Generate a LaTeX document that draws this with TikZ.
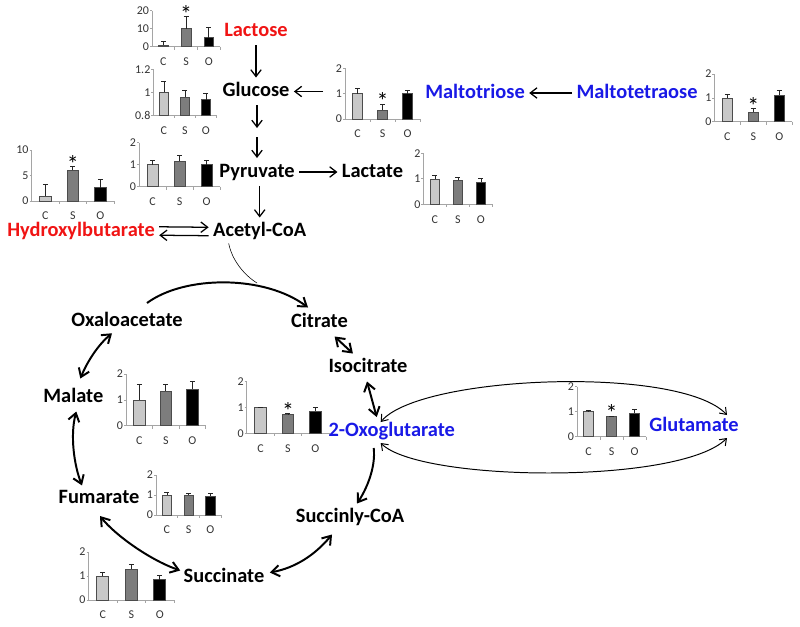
\documentclass[tikz,border=0pt]{standalone}
\usepackage{fontspec}
\setmainfont{Carlito}
\usetikzlibrary{arrows.meta,calc}

\definecolor{labred}{RGB}{240,20,20}
\definecolor{labblue}{RGB}{25,25,230}
\definecolor{barcol1}{RGB}{200,200,200}
\definecolor{barcol2}{RGB}{125,125,125}
\definecolor{barcol3}{RGB}{0,0,0}
\definecolor{axisgray}{RGB}{165,165,165}

\tikzset{
  metab/.style={font=\fontsize{14.5}{16}\selectfont\bfseries, inner sep=3pt,
    text height=10.5pt, text depth=3pt},
  ticklabel/.style={font=\fontsize{8.5}{9}\selectfont, text=black!80, inner sep=0.5pt},
  starlabel/.style={font=\fontsize{17}{17}\selectfont, inner sep=0pt, anchor=base},
  chartaxis/.style={draw=axisgray, line width=0.5pt},
  errbar/.style={draw=black!85, line width=0.4pt},
  flow/.style={-{Straight Barb[length=1.7mm,width=2.6mm]}, line width=0.9pt},
  cyc/.style={-{Straight Barb[length=2mm,width=2.8mm]}, line width=1.4pt},
  cycboth/.style={{Straight Barb[length=2mm,width=2.8mm]}-{Straight Barb[length=2mm,width=2.8mm]}, line width=1.4pt},
  dblthin/.style={{Straight Barb[length=1.5mm,width=2.2mm]}-{Straight Barb[length=1.5mm,width=2.2mm]}, line width=0.7pt},
  joinline/.style={line width=0.4pt}
}

% #1 corner, #2 group width, #3 px per unit, #4 axis top, #5 ticks, #6 bars, #7 starred group
\newcommand{\minichart}[7]{%
  \begin{scope}[shift={#1}]
    \draw[chartaxis] (0,-#4*#3) -- (0,0) -- (3*#2,0);
    \foreach \v/\l in {#5}{
      \draw[chartaxis] (-2,-\v*#3) -- (0,-\v*#3);
      \node[ticklabel,anchor=east] at (-2,-\v*#3) {\l};
    }
    \foreach \t in {1,2,3}
      \draw[chartaxis] (\t*#2,0) -- (\t*#2,3);
    \foreach \h/\e [count=\i] in {#6}{
      \filldraw[fill=barcol\i, draw=black!70, line width=0.4pt]
        ({(\i-0.5)*#2-0.21*#2},0) rectangle ({(\i-0.5)*#2+0.21*#2},-\h*#3);
      \draw[errbar] ({(\i-0.5)*#2},-\h*#3) -- ({(\i-0.5)*#2},-\e*#3)
        ({(\i-0.5)*#2-2.5},-\e*#3) -- ({(\i-0.5)*#2+2.5},-\e*#3);
      \ifnum\i=#7 \node[starlabel] at ({(\i-0.5)*#2},-\e*#3+6) {*};\fi
    }
    \foreach \c [count=\i] in {C,S,O}
      \node[ticklabel] at ({(\i-0.5)*#2},15) {\c};
  \end{scope}}

\begin{document}
\begin{tikzpicture}[x=0.025cm,y=-0.025cm]
    \useasboundingbox (0,0) rectangle (800,626);

    % small bar charts
    \minichart{(152,46.7)}{22.7}{1.8}{20}{0/0,10/10,20/20}{1/3,10/17,5/11}{2}
    \minichart{(153.3,115.3)}{21}{115}{0.4}{0/0.8,0.2/1,0.4/1.2}{0.2/0.3,0.16/0.22,0.135/0.19}{0}
    \minichart{(139,186.7)}{27}{22}{2}{0/0,1/1,2/2}{1/1.2,1.15/1.45,1/1.2}{0}
    \minichart{(31.5,201)}{27.5}{5.1}{10}{0/0,5/5,10/10}{1/3.2,6/6.8,2.6/4.2}{2}
    \minichart{(345,119)}{25}{25.35}{2}{0/0,1/1,2/2}{1/1.2,0.35/0.6,1/1.15}{2}
    \minichart{(714.3,121.7)}{26}{23.85}{2}{0/0,1/1,2/2}{1/1.15,0.4/0.55,1.1/1.3}{2}
    \minichart{(423.3,204.3)}{23}{25.5}{2}{0/0,1/1,2/2}{1/1.15,0.95/1.05,0.88/1.02}{0}
    \minichart{(126,425.7)}{26.5}{25.85}{2}{0/0,1/1,2/2}{1/1.6,1.35/1.6,1.42/1.7}{0}
    \minichart{(246.7,433.3)}{27.5}{25.8}{2}{0/0,1/1,2/2}{1/1.02,0.72/0.76,0.87/1.02}{2}
    \minichart{(577,436.7)}{23}{25}{2}{0/0,1/1,2/2}{1/1.05,0.8/0.83,0.95/1.1}{2}
    \minichart{(156,515)}{21.7}{20}{2}{0/0,1/1,2/2}{1/1.15,1/1.08,0.95/1.1}{0}
    \minichart{(88.5,600)}{28.5}{24}{2}{0/0,1/1,2/2}{1/1.15,1.28/1.5,0.85/1.05}{0}

    % metabolites
    \node[metab,text=labred] (lactose) at (256,31.5) {Lactose};
    \node[metab] (glucose) at (256,91.5) {Glucose};
    \node[metab] (pyruvate) at (257,172) {Pyruvate};
    \node[metab] (lactate) at (372.5,172) {Lactate};
    \node[metab] (acetyl) at (259.7,231.5) {Acetyl-CoA};
    \node[metab,text=labred] (hydroxy) at (81,231) {Hydroxylbutarate};
    \node[metab,text=labblue] (maltotriose) at (475,93) {Maltotriose};
    \node[metab,text=labblue] (maltotetraose) at (637,93) {Maltotetraose};
    \node[metab] (oxalo) at (127,321) {Oxaloacetate};
    \node[metab] (citrate) at (319.5,322.5) {Citrate};
    \node[metab] (isocitrate) at (368,367.5) {Isocitrate};
    \node[metab] (malate) at (73.3,397.5) {Malate};
    \node[metab,text=labblue] (oxoglu) at (391.7,431) {2-Oxoglutarate};
    \node[metab,text=labblue] (glutamate) at (694,426) {Glutamate};
    \node[metab] (fumarate) at (99,498) {Fumarate};
    \node[metab] (succoa) at (350,517.5) {Succinly-CoA};
    \node[metab] (succinate) at (224,577.5) {Succinate};

    \coordinate (mtrtail) at (323,91.5);
    \coordinate (glymid) at (257,128);
    \coordinate (glymid2) at (257,137);
    \coordinate (acmerge) at (257,283);

    % upper pathway
    \draw[flow] (lactose) -- (glucose);
    \draw[flow] (glucose.south -| glymid) -- (glymid);
    \draw[flow] (glymid2) -- (glymid2 |- pyruvate.north);
    \draw[flow] (mtrtail) -- (glucose.east);
    \draw[flow] (maltotetraose) -- (maltotriose);
    \draw[flow] (pyruvate) -- (lactate);
    \draw[flow] (pyruvate.south -| acetyl) -- (acetyl);
    \draw[flow] ([yshift=3pt]hydroxy.east) -- ([yshift=3pt]acetyl.west);
    \draw[flow] ([yshift=-3pt]acetyl.west) -- ([yshift=-3pt]hydroxy.east);
    \draw[joinline] ($(acetyl.south)+(-31,-2)$) .. controls (232,260) and (244,275) .. (acmerge);

    % cycle
    \draw[cyc] ($(oxalo.north)+(20,-4)$) .. controls (185,275) and (265,275) .. ($(citrate.north)+(-11.5,-1)$);
    \draw[cycboth] (citrate) -- (isocitrate);
    \draw[cycboth] ($(isocitrate.south)+(-1,0)$) -- ($(oxoglu.north)+(-15,0)$);
    \draw[cyc] ($(oxoglu.south)+(-18,3)$) .. controls (376,468) and (366,490) .. ($(succoa.north)+(7,0)$);
    \draw[cycboth] ($(succoa.south)+(-18,3)$) .. controls (315,555) and (295,568) .. ($(succinate.east)+(1,-5)$);
    \draw[cycboth] ($(fumarate.south)+(1,4)$) .. controls (115,535) and (150,560) .. ($(succinate.west)+(1,-7)$);
    \draw[cycboth] ($(malate.south)+(3,0)$) .. controls (70,435) and (74,465) .. ($(fumarate.north)+(-17,1.4)$);
    \draw[cycboth] ($(oxalo.south)+(-15,-1.7)$) .. controls (99,344) and (88,360) .. ($(malate.north)+(7,-5)$);

    % transamination loop
    \draw[dblthin] ($(oxoglu.north)+(-11,5)$) .. controls (420,375) and (680,365) .. ($(glutamate.north)+(33,3)$);
    \draw[dblthin] ($(oxoglu.south)+(-11,-2)$) .. controls (420,482) and (680,485) .. ($(glutamate.south)+(33,-2)$);
\end{tikzpicture}
\end{document}
